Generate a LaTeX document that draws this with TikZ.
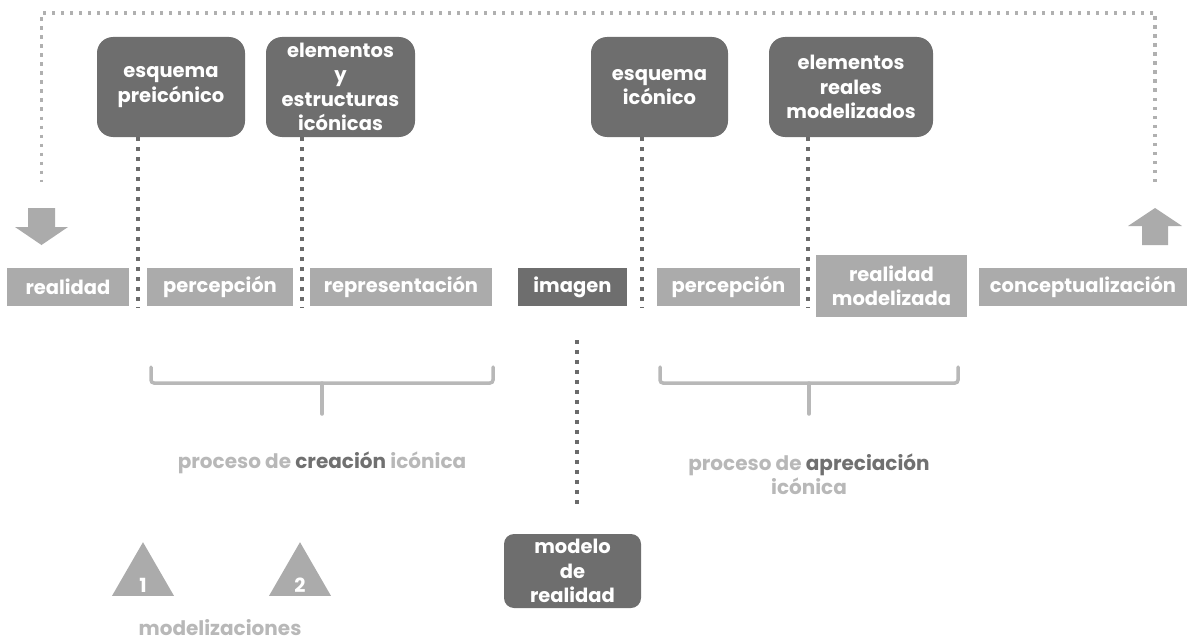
\documentclass[tikz,border=0pt]{standalone}
\usepackage{fontspec}
\setmainfont{Poppins}
\usetikzlibrary{calc,shapes.geometric}

\definecolor{boxdark}{HTML}{6E6E6E}
\definecolor{boxlight}{HTML}{ABABAB}
\definecolor{dotdark}{HTML}{6A6A6A}
\definecolor{dotlight}{HTML}{B0B0B0}
\definecolor{bracecol}{HTML}{B8B8B8}
\definecolor{txtlight}{HTML}{B8B8B8}
\definecolor{txtdark}{HTML}{707070}

\tikzset{
  lbl/.style={font=\bfseries\fontsize{19.5}{24.5}\selectfont, text=white, align=center, inner sep=0pt},
  topbox/.style={lbl, fill=boxdark, rounded corners=16pt, minimum height=100pt},
  rowbox/.style={lbl, fill=boxlight, minimum height=38pt},
  darkbox/.style={lbl, fill=boxdark, minimum height=38pt},
  darkdots/.style={draw=dotdark, line width=4pt, dash pattern=on 4pt off 6pt},
  lightdots/.style={draw=dotlight, line width=3.5pt, dash pattern=on 3.5pt off 5.5pt},
  bracket/.style={draw=bracecol, line width=3.5pt, rounded corners=3pt, line cap=round},
  blockarrow/.style={fill=boxlight},
  tri/.style={fill=boxlight, regular polygon, regular polygon sides=3, minimum size=71.6pt, inner sep=0pt},
  caption/.style={font=\bfseries\fontsize{20}{24}\selectfont, text=txtlight, align=center, inner sep=0pt}
}

\begin{document}
\begin{tikzpicture}[x=1pt, y=-1pt]
\useasboundingbox (0,0) rectangle (1189,642);

% upper row of concept boxes
\node[topbox, minimum width=148pt] (pre) at (171,87) {esquema\\preicónico};
\node[topbox, minimum width=149pt] (est) at (340.5,87) {elementos\\y\\estructuras\\icónicas};
\node[topbox, minimum width=137pt] (ico) at (659.5,87) {esquema\\icónico};
\node[topbox, minimum width=164pt] (reales) at (851,87) {elementos\\reales\\modelizados};

% process row
\node[rowbox, minimum width=122pt] (real) at (68,287) {realidad};
\node[rowbox, minimum width=146pt] (percA) at (220,287) {percepción};
\node[rowbox, minimum width=182pt] (repr) at (401,287) {representación};
\node[darkbox, minimum width=109pt] (imagen) at (572.5,287) {imagen};
\node[rowbox, minimum width=143pt] (percB) at (728.5,287) {percepción};
\node[rowbox, minimum width=151pt, minimum height=62pt] (realmod) at (891.5,286) {realidad\\modelizada};
\node[rowbox, minimum width=208pt] (concept) at (1083,287) {conceptualización};

% model box below the image
\node[lbl, fill=boxdark, rounded corners=10pt, minimum width=137pt, minimum height=74pt] (modelo) at (572.5,571) {modelo\\de\\realidad};

% dotted links between the two rows
\coordinate (gA) at ($(real.east)!0.5!(percA.west)$);
\coordinate (gB) at ($(percA.east)!0.5!(repr.west)$);
\coordinate (gC) at ($(imagen.east)!0.5!(percB.west)$);
\coordinate (gD) at ($(percB.east)!0.5!(realmod.west)$);
\draw[darkdots] (gA |- pre.south) -- ([yshift=-2pt]gA |- real.south);
\draw[darkdots] (gB |- est.south) -- ([yshift=-2pt]gB |- real.south);
\draw[darkdots] (gC |- ico.south) -- ([yshift=-2pt]gC |- real.south);
\draw[darkdots] (gD |- reales.south) -- ([yshift=-2pt]gD |- real.south);
\draw[darkdots] ([xshift=4pt,yshift=-34pt]imagen.south) -- ([xshift=4pt,yshift=26pt]modelo.north);

% block arrows closing the loop
\coordinate (downA) at (41.5,226);
\coordinate (upA) at (1155,226);
\fill[blockarrow] (28,208) -- (55,208) -- (55,227) -- (68,227) -- (41.5,245) -- (15,227) -- (28,227) -- cycle;
\fill[blockarrow] (1142,245) -- (1168,245) -- (1168,226) -- (1182,226) -- (1155,208) -- (1128,226) -- (1142,226) -- cycle;
\draw[lightdots] ([yshift=44pt]upA) -- (1155,13) -- (41.5,13) -- ([yshift=44pt]downA);

% brackets grouping the processes
\draw[bracket] (151,367) -- (151,383) -- (493,383) -- (493,367);
\draw[bracket] (322,383) -- (322,414);
\draw[bracket] (660,367) -- (660,383) -- (958,383) -- (958,367);
\draw[bracket] (809,383) -- (809,414);

\node[caption] (creacion) at (322,463) {proceso de \textcolor{txtdark}{creación} icónica};
\node[caption] (apreciacion) at (809,474) {proceso de \textcolor{txtdark}{apreciación}\\icónica};

% modelisation markers
\node[tri] (t1) at (143,578) {};
\node[lbl] at ([yshift=-7pt]t1.center) {1};
\node[tri] (t2) at (300,578) {};
\node[lbl] at ([yshift=-7pt]t2.center) {2};
\node[caption] (modz) at (220,628) {modelizaciones};
\end{tikzpicture}
\end{document}
